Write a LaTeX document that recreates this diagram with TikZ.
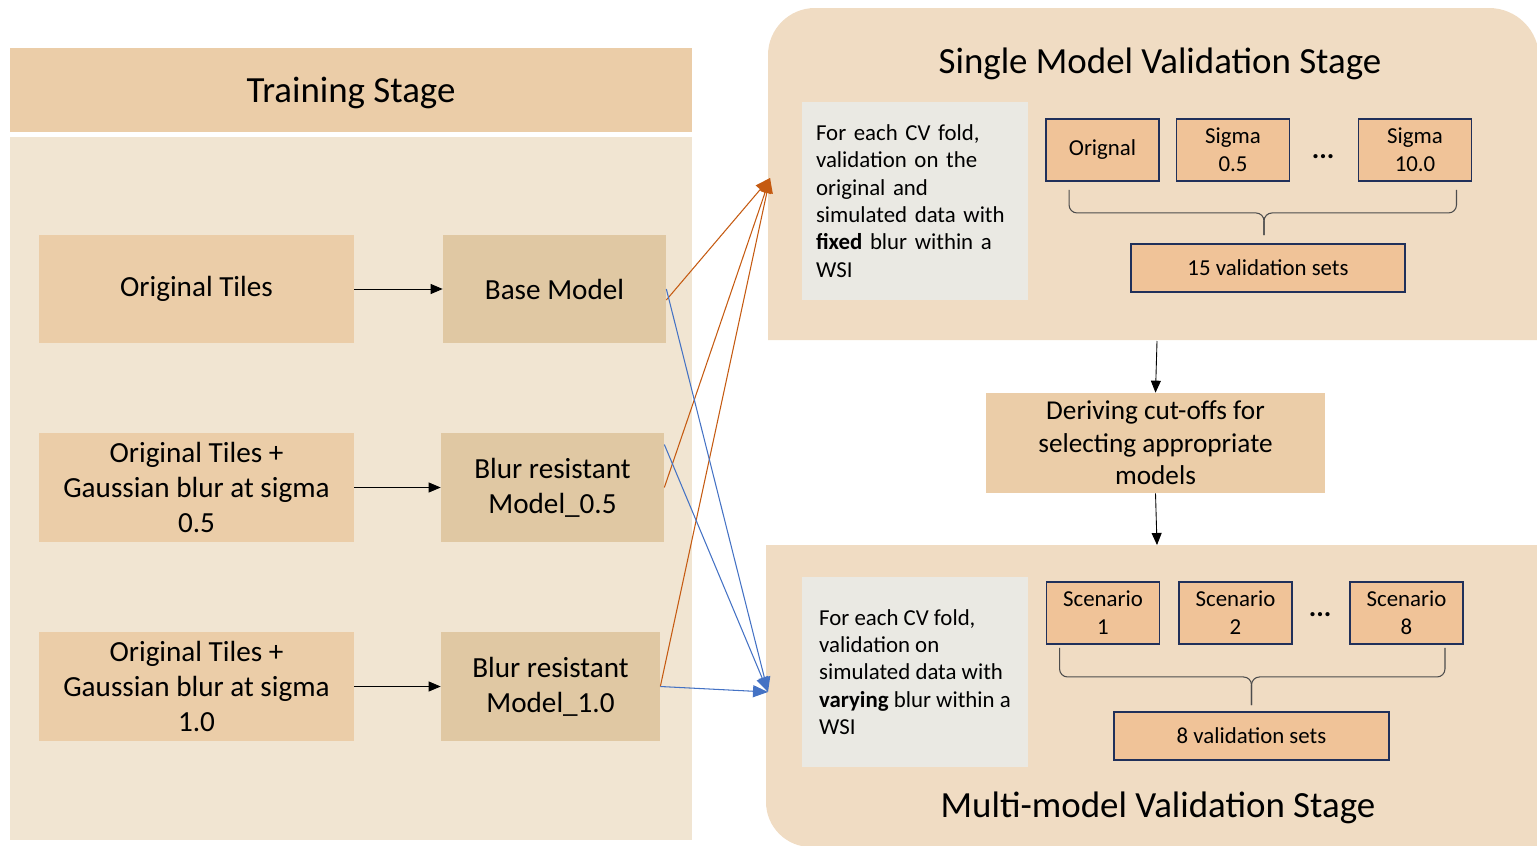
\documentclass[tikz,border=0pt]{standalone}
\usepackage{fontspec}
\setmainfont{Carlito}
\usetikzlibrary{arrows.meta}
\definecolor{headfill}{RGB}{235,205,168}
\definecolor{bodyfill}{RGB}{241,229,210}
\definecolor{modelfill}{RGB}{224,200,163}
\definecolor{stagefill}{RGB}{240,220,195}
\definecolor{notefill}{RGB}{234,233,227}
\definecolor{setfill}{RGB}{240,195,152}
\definecolor{setline}{RGB}{32,48,90}
\definecolor{toorange}{RGB}{197,90,17}
\definecolor{toblue}{RGB}{68,114,196}

\begin{document}
\begin{tikzpicture}[x=0.02cm,y=-0.02cm]
  \tikzstyle{stagetitle}=[font=\fontsize{21}{25}\selectfont]
  \tikzstyle{tilebox}=[fill=headfill,minimum width=6.3cm,minimum height=2.18cm,align=center,font=\fontsize{16.6}{20}\selectfont]
  \tikzstyle{modelbox}=[fill=modelfill,minimum width=4.46cm,minimum height=2.18cm,align=center,font=\fontsize{16.6}{20}\selectfont]
  \tikzstyle{notebox}=[fill=notefill,minimum width=4.52cm,align=left,font=\fontsize{13}{15.6}\selectfont]
  \tikzstyle{setbox}=[fill=setfill,draw=setline,line width=1.1pt,minimum width=2.26cm,minimum height=1.24cm,align=center,font=\fontsize{13}{15.9}\selectfont]
  \tikzstyle{dotlabel}=[font=\fontsize{16}{18}\selectfont\bfseries]
  \tikzstyle{flowarrow}=[-{Triangle[length=0.24cm,width=0.2cm]},black,line width=0.5pt]
  \tikzstyle{singlearrow}=[-{Triangle[length=0.3cm,width=0.24cm]},toorange,line width=0.6pt]
  \tikzstyle{multiarrow}=[-{Triangle[length=0.3cm,width=0.24cm]},toblue,line width=0.6pt]
  \tikzstyle{setbrace}=[draw=black!70,line width=0.6pt,rounded corners=0.16cm]
  \useasboundingbox (0,0) rectangle (1537,845);

  % training stage
  \node (trainhead) at (351,90) [fill=headfill,minimum width=13.64cm,minimum height=1.68cm] {};
  \node (traintitle) at (351,93) [stagetitle] {Training Stage};
  \node (trainbody) at (351,488.5) [fill=bodyfill,minimum width=13.64cm,minimum height=14.06cm] {};
  \node (tiles) at (196.5,289) [tilebox] {Original Tiles};
  \node (tiles05) at (196.5,487.5) [tilebox] {Original Tiles +\\Gaussian blur at sigma\\0.5};
  \node (tiles10) at (196.5,686.5) [tilebox] {Original Tiles +\\Gaussian blur at sigma\\1.0};
  \node (base) at (554.5,289) [modelbox] {Base Model};
  \node (model05) at (552.5,487.5) [modelbox] {Blur resistant\\Model\_0.5};
  \node (model10) at (550.5,686.5) [modelbox,minimum width=4.38cm] {Blur resistant\\Model\_1.0};
  \draw [flowarrow] (tiles) -- (base);
  \draw [flowarrow] (tiles05) -- (model05);
  \draw [flowarrow] (tiles10) -- (model10);

  % single model validation stage
  \fill [stagefill] (768,340) -- (768,55) arc[start angle=180,end angle=90,radius=0.94cm]
    -- (1489,8) arc[start angle=90,end angle=0,radius=1cm] -- (1539,340) -- cycle;
  \node (singletitle) at (1160,64) [stagetitle] {Single Model Validation Stage};
  \node (singlenote) at (915,201) [notebox,text width=3.96cm,inner xsep=0.28cm,minimum height=3.96cm] {For each CV fold,\\validation on the\\original and\\simulated data with\\\textbf{fixed} blur within a\\WSI};
  \node (orig) at (1102.5,150) [setbox] {Orignal};
  \node (sigma05) at (1233,150) [setbox] {Sigma\\0.5};
  \node (sdots) at (1323,157) [dotlabel] {...};
  \node (sigma10) at (1415,150) [setbox] {Sigma\\10.0};
  \node (sets15) at (1268,268) [setbox,minimum width=5.48cm,minimum height=0.96cm] {15 validation sets};
  \coordinate (brace15l) at ([xshift=0.48cm,yshift=-0.16cm]orig.south west);
  \coordinate (brace15r) at ([xshift=-0.32cm,yshift=-0.16cm]sigma10.south east);
  \coordinate (brace15tip) at ([xshift=-0.08cm,yshift=0.16cm]sets15.north);
  \draw [setbrace] (brace15l) -- ++(0,23) -| (brace15tip);
  \draw [setbrace] (brace15r) -- ++(0,23) -| (brace15tip);

  % cut-offs
  \coordinate (singlebottom) at (1157,341);
  \coordinate (multitop) at (1157,545);
  \node (derive) at (1155.5,443) [fill=headfill,minimum width=6.78cm,minimum height=2cm,align=center,font=\fontsize{15.5}{18.5}\selectfont] {Deriving cut-offs for\\selecting appropriate\\models};
  \draw [flowarrow] (singlebottom) -- (derive.north);
  \draw [flowarrow] (derive.south) -- (multitop);

  % multi-model validation stage
  \fill [stagefill] (766,545) -- (1539,545) -- (1539,847) -- (811,847)
    arc[start angle=270,end angle=180,radius=0.9cm] -- cycle;
  \node (multititle) at (1158,808) [stagetitle] {Multi-model Validation Stage};
  \node (multinote) at (915,672) [notebox,minimum height=3.8cm] {For each CV fold,\\validation on\\simulated data with\\\textbf{varying} blur within a\\WSI};
  \node (scen1) at (1103,613) [setbox] {Scenario\\1};
  \node (scen2) at (1235.5,613) [setbox] {Scenario\\2};
  \node (mdots) at (1320,615) [dotlabel] {...};
  \node (scen8) at (1406.5,613) [setbox] {Scenario\\8};
  \node (sets8) at (1251.5,736) [setbox,minimum width=5.5cm,minimum height=0.96cm] {8 validation sets};
  \coordinate (brace8l) at ([xshift=0.28cm,yshift=-0.06cm]scen1.south west);
  \coordinate (brace8r) at ([xshift=-0.38cm,yshift=-0.06cm]scen8.south east);
  \coordinate (brace8tip) at ([yshift=0.12cm]sets8.north);
  \draw [setbrace] (brace8l) -- ++(0,29) -| (brace8tip);
  \draw [setbrace] (brace8r) -- ++(0,29) -| (brace8tip);

  % models to validation stages
  \coordinate (singlein) at (770,178);
  \coordinate (multiin) at (768,692);
  \draw [singlearrow] ([yshift=-0.22cm]base.east) -- (singlein);
  \draw [singlearrow] (model05.east) -- (singlein);
  \draw [singlearrow] (model10.east) -- (singlein);
  \draw [multiarrow] (base.east) -- (multiin);
  \draw [multiarrow] ([yshift=0.86cm]model05.east) -- (multiin);
  \draw [multiarrow] (model10.east) -- (multiin);
\end{tikzpicture}
\end{document}
